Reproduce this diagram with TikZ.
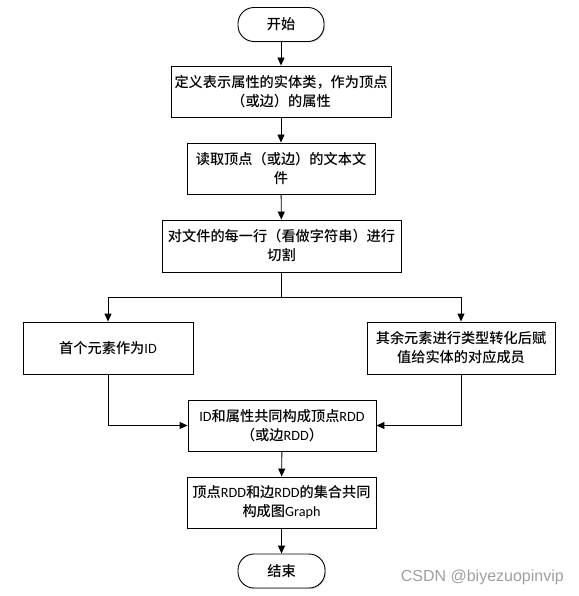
\documentclass[tikz,border=0pt]{standalone}
\usepackage{fontspec}
\setmainfont{Noto Sans CJK SC Medium}
\newfontfamily\lat{Carlito}
\newfontfamily\wmfont{Liberation Sans}
\usetikzlibrary{arrows.meta,shadows}
\begin{document}
\begin{tikzpicture}[x=1pt,y=-1pt,
  base/.style={draw=black, line width=0.9pt, fill=white, inner sep=0pt, align=center,
    font=\fontsize{14.2}{19}\selectfont,
    drop shadow={shadow xshift=1pt, shadow yshift=-1pt, opacity=0.35, fill=gray}},
  procbox/.style={base, rectangle},
  termbox/.style={base, rectangle, rounded corners=16pt, minimum width=86pt, minimum height=34pt},
  conn/.style={line width=0.9pt, -{Triangle[length=8pt,width=7pt]}},
  plain/.style={line width=0.9pt}]
\useasboundingbox (0,0) rectangle (578,596);
\node[termbox] (start) at (281,24.5) {开始};
\node[procbox, minimum width=220pt, minimum height=51pt] (b1) at (281,91.5) {定义表示属性的实体类，作为顶点\\（或边）的属性};
\node[procbox, minimum width=188pt, minimum height=51pt] (b2) at (281,168.5) {读取顶点（或边）的文本文\\件};
\node[procbox, minimum width=239pt, minimum height=52pt] (b3) at (281.5,246) {对文件的每一行（看做字符串）进行\\切割};
\node[procbox, minimum width=170pt, minimum height=52pt] (left) at (108,348) {首个元素作为{\lat ID}};
\node[procbox, minimum width=188pt, minimum height=52pt] (right) at (461,348) {其余元素进行类型转化后赋\\值给实体的对应成员};
\node[procbox, minimum width=188pt, minimum height=51pt] (idb) at (282,425.5) {{\lat ID}和属性共同构成顶点{\lat RDD}\\（或边{\lat RDD}）};
\node[procbox, minimum width=189pt, minimum height=51pt] (gr) at (281.5,502.5) {顶点{\lat RDD}和边{\lat RDD}的集合共同\\构成图{\lat Graph}};
\node[termbox, minimum width=87pt] (end) at (281.5,571) {结束};
\coordinate (split) at (281.5,297);
\node[text=gray!75, font=\wmfont\fontsize{16}{16}\selectfont, inner sep=0pt, anchor=east] (wm) at (564,577) {CSDN @biyezuopinvip};

\draw[conn] (start) -- (b1);
\draw[conn] (b1) -- (b2);
\draw[conn] (b2) -- (b3);
\draw[plain] (b3.south) -- (split);
\draw[conn] (split) -| (left.north);
\draw[conn] (split) -| (right.north);
\draw[conn] (left.south) |- (idb.west);
\draw[conn] (right.south) |- (idb.east);
\draw[conn] (idb) -- (gr);
\draw[conn] (gr) -- (end);
\end{tikzpicture}
\end{document}
